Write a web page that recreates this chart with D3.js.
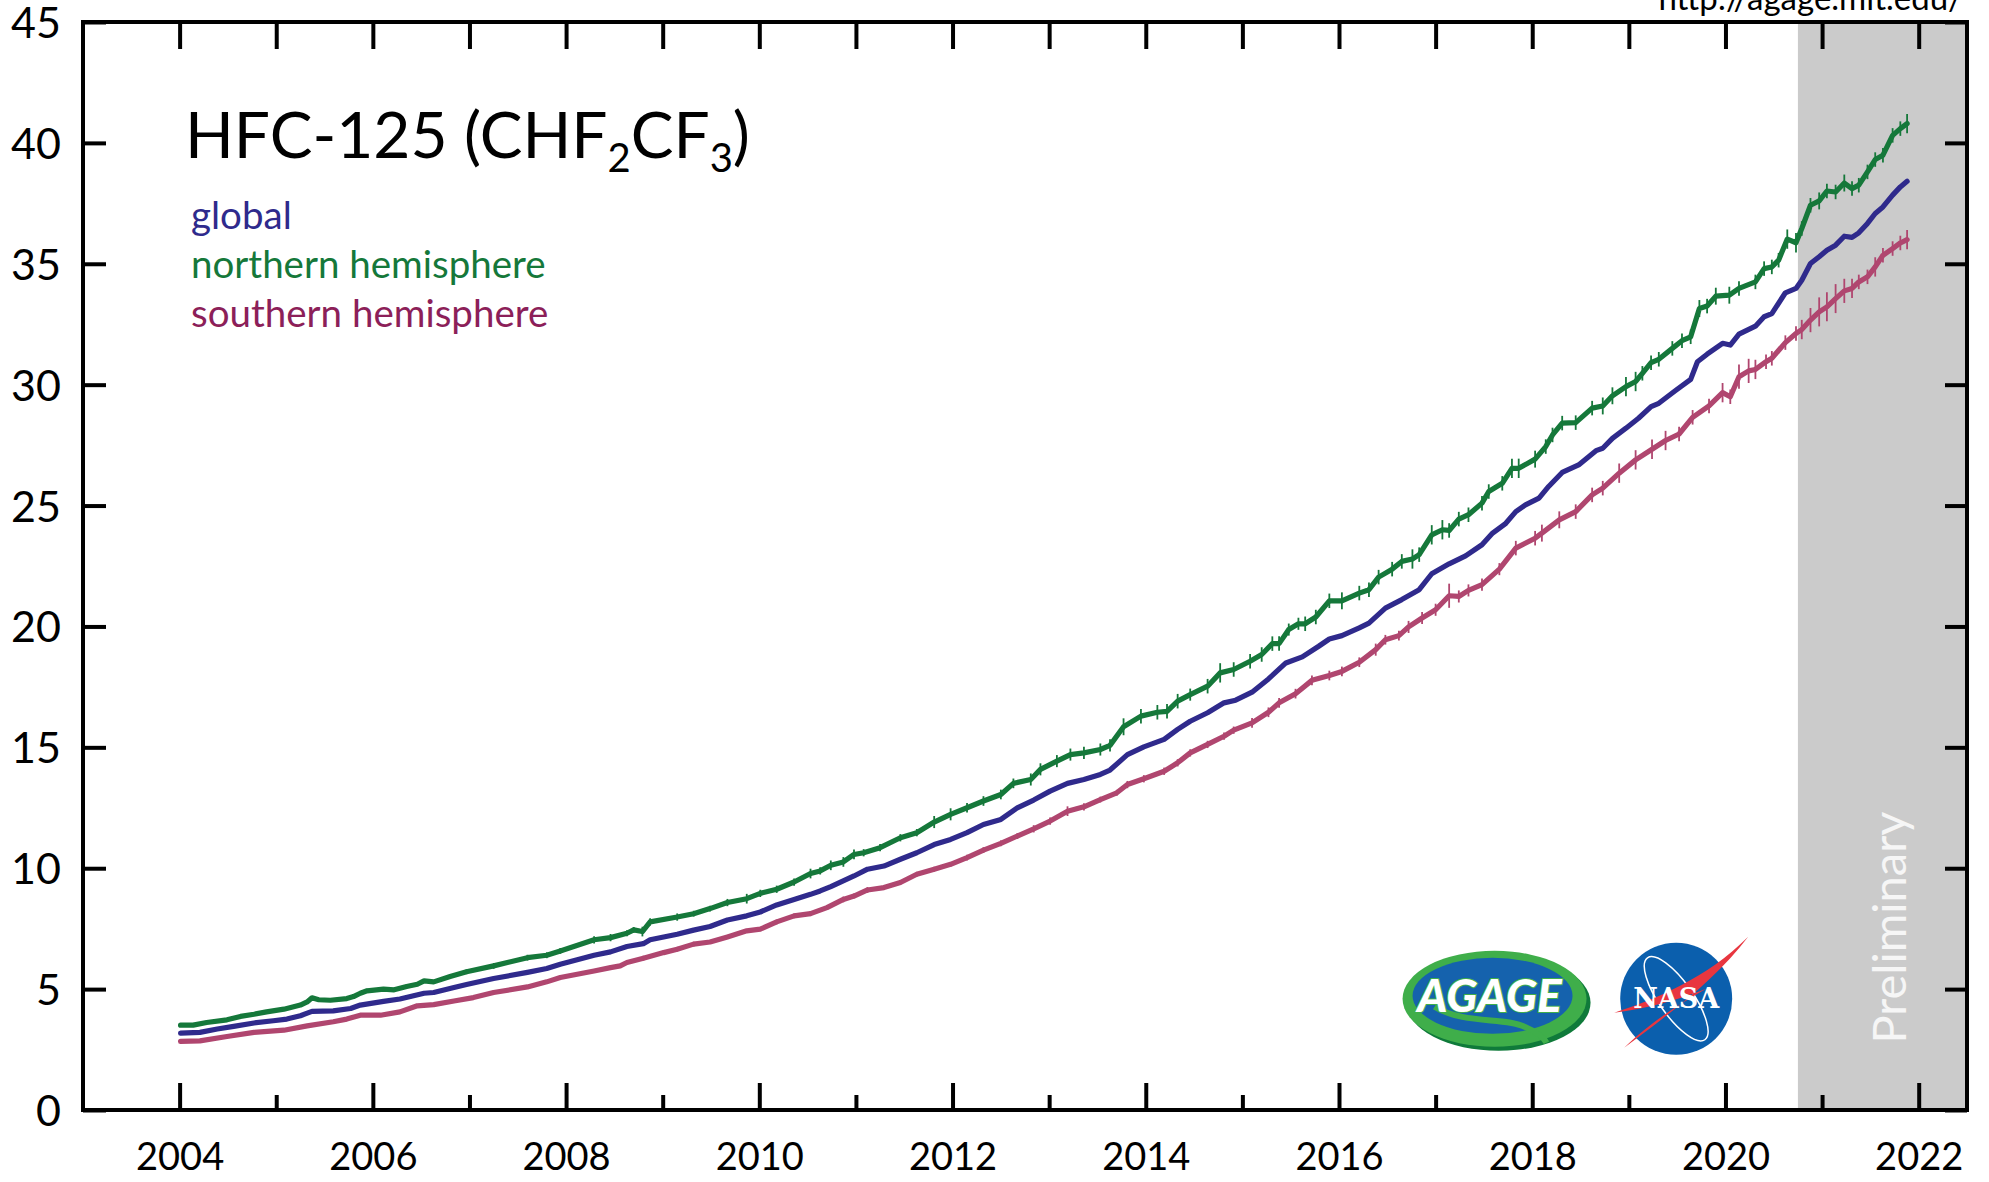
<!DOCTYPE html>
<html>
<head>
<meta charset="utf-8">
<script src="https://cdn.jsdelivr.net/npm/d3@7"></script>
<style>
  html, body { margin: 0; padding: 0; background: #fff; }
  svg { display: block; font-family: Lato, "Open Sans", sans-serif; }
</style>
</head>
<body>
<svg id="chart"></svg>
<script>
// HFC-125 mole fractions (ppt)
// [decimal year, value, half error bar]
const northern = [
  [2004.01, 3.51, .05], [2004.14, 3.51, .05], [2004.28, 3.62, .05], [2004.49, 3.73, .06],
  [2004.63, 3.87, .06], [2004.77, 3.96, .06], [2004.90, 4.06, .06], [2005.08, 4.17, .06],
  [2005.25, 4.34, .06], [2005.32, 4.47, .06], [2005.37, 4.64, .06], [2005.44, 4.56, .06],
  [2005.56, 4.54, .06], [2005.73, 4.61, .06], [2005.80, 4.69, .08], [2005.87, 4.83, .08],
  [2005.94, 4.93, .08], [2006.11, 5.00, .08], [2006.22, 4.97, .08], [2006.35, 5.11, .08],
  [2006.46, 5.20, .08], [2006.53, 5.34, .08], [2006.63, 5.30, .08], [2006.80, 5.52, .08],
  [2006.97, 5.72, .10], [2007.25, 5.96, .12], [2007.60, 6.30, .12], [2007.80, 6.40, .12],
  [2007.94, 6.58, .12], [2008.29, 7.04, .15], [2008.46, 7.13, .15], [2008.63, 7.31, .12],
  [2008.70, 7.45, .12], [2008.79, 7.38, .20], [2008.87, 7.78, .15], [2009.15, 7.98, .15],
  [2009.32, 8.12, .12], [2009.49, 8.33, .12], [2009.67, 8.58, .15], [2009.87, 8.74, .20],
  [2010.01, 8.96, .15], [2010.18, 9.13, .15], [2010.36, 9.43, .15], [2010.53, 9.78, .20],
  [2010.63, 9.89, .15], [2010.74, 10.12, .20], [2010.87, 10.26, .20], [2010.98, 10.57, .20],
  [2011.08, 10.64, .15], [2011.25, 10.85, .15], [2011.46, 11.26, .15], [2011.63, 11.47, .15],
  [2011.81, 11.91, .25], [2011.98, 12.23, .25], [2012.15, 12.50, .20], [2012.32, 12.78, .20],
  [2012.50, 13.05, .20], [2012.63, 13.51, .20], [2012.81, 13.67, .25], [2012.91, 14.09, .25],
  [2013.08, 14.43, .25], [2013.22, 14.70, .25], [2013.36, 14.77, .25], [2013.53, 14.91, .25],
  [2013.63, 15.08, .25], [2013.77, 15.85, .35], [2013.95, 16.29, .30], [2014.12, 16.45, .30],
  [2014.22, 16.49, .30], [2014.33, 16.91, .30], [2014.46, 17.18, .25], [2014.64, 17.53, .30],
  [2014.77, 18.08, .40], [2014.91, 18.22, .30], [2015.08, 18.56, .30], [2015.20, 18.84, .30],
  [2015.31, 19.29, .30], [2015.38, 19.29, .30], [2015.48, 19.87, .25], [2015.58, 20.11, .25],
  [2015.65, 20.11, .30], [2015.76, 20.39, .30], [2015.90, 21.06, .30], [2016.03, 21.06, .35],
  [2016.21, 21.38, .30], [2016.31, 21.52, .30], [2016.41, 22.04, .30], [2016.55, 22.37, .30],
  [2016.65, 22.69, .30], [2016.76, 22.79, .40], [2016.83, 22.97, .30], [2016.96, 23.79, .40],
  [2017.07, 24.00, .40], [2017.14, 23.97, .30], [2017.24, 24.44, .30], [2017.34, 24.62, .30],
  [2017.48, 25.10, .30], [2017.55, 25.58, .30], [2017.69, 25.92, .30], [2017.79, 26.54, .40],
  [2017.86, 26.54, .40], [2018.03, 26.92, .35], [2018.14, 27.44, .30], [2018.21, 27.92, .30],
  [2018.31, 28.41, .30], [2018.45, 28.43, .30], [2018.62, 29.03, .30], [2018.73, 29.12, .35],
  [2018.83, 29.54, .35], [2018.97, 29.92, .40], [2019.07, 30.13, .40], [2019.14, 30.47, .30],
  [2019.23, 30.91, .30], [2019.31, 31.05, .30], [2019.45, 31.50, .30], [2019.55, 31.82, .30],
  [2019.64, 31.98, .30], [2019.73, 33.15, .35], [2019.81, 33.25, .30], [2019.90, 33.66, .35],
  [2020.04, 33.70, .35], [2020.14, 33.98, .30], [2020.31, 34.25, .30], [2020.40, 34.80, .30],
  [2020.48, 34.87, .30], [2020.55, 35.15, .30], [2020.64, 36.02, .40], [2020.73, 35.87, .40],
  [2020.79, 36.46, .30], [2020.88, 37.42, .30], [2020.97, 37.60, .35], [2021.05, 38.01, .30],
  [2021.14, 37.97, .30], [2021.23, 38.34, .35], [2021.31, 38.11, .30], [2021.38, 38.25, .30],
  [2021.47, 38.80, .30], [2021.55, 39.31, .30], [2021.63, 39.49, .30], [2021.73, 40.31, .30],
  [2021.81, 40.59, .30], [2021.88, 40.80, .40]
];

const global = [
  [2004.01, 3.18], [2004.21, 3.21], [2004.39, 3.35], [2004.56, 3.46], [2004.77, 3.60],
  [2004.97, 3.69], [2005.11, 3.76], [2005.25, 3.90], [2005.37, 4.08], [2005.59, 4.10],
  [2005.77, 4.20], [2005.87, 4.34], [2006.11, 4.49], [2006.28, 4.59], [2006.53, 4.83],
  [2006.63, 4.86], [2006.84, 5.07], [2006.97, 5.19], [2007.25, 5.44], [2007.60, 5.69],
  [2007.80, 5.85], [2007.94, 6.03], [2008.29, 6.40], [2008.46, 6.54], [2008.63, 6.76],
  [2008.80, 6.88], [2008.87, 7.04], [2009.15, 7.27], [2009.32, 7.44], [2009.49, 7.59],
  [2009.67, 7.86], [2009.87, 8.03], [2010.01, 8.19], [2010.18, 8.48], [2010.36, 8.71],
  [2010.53, 8.92], [2010.63, 9.06], [2010.74, 9.24], [2010.98, 9.68], [2011.12, 9.96],
  [2011.29, 10.09], [2011.46, 10.37], [2011.63, 10.64], [2011.81, 10.98], [2011.98, 11.19],
  [2012.15, 11.47], [2012.32, 11.81], [2012.50, 12.02], [2012.67, 12.50], [2012.84, 12.82],
  [2013.01, 13.19], [2013.19, 13.51], [2013.36, 13.67], [2013.53, 13.88], [2013.63, 14.06],
  [2013.81, 14.70], [2013.98, 15.02], [2014.19, 15.33], [2014.33, 15.74], [2014.46, 16.08],
  [2014.64, 16.43], [2014.81, 16.84], [2014.93, 16.95], [2015.10, 17.28], [2015.27, 17.83],
  [2015.45, 18.49], [2015.62, 18.74], [2015.79, 19.18], [2015.90, 19.48], [2016.03, 19.62],
  [2016.21, 19.94], [2016.31, 20.14], [2016.48, 20.76], [2016.65, 21.11], [2016.83, 21.52],
  [2016.96, 22.18], [2017.14, 22.59], [2017.31, 22.92], [2017.48, 23.38], [2017.59, 23.86],
  [2017.72, 24.24], [2017.83, 24.75], [2017.93, 25.03], [2018.07, 25.31], [2018.17, 25.79],
  [2018.31, 26.37], [2018.48, 26.68], [2018.66, 27.27], [2018.73, 27.37], [2018.83, 27.78],
  [2018.97, 28.20], [2019.10, 28.61], [2019.23, 29.09], [2019.31, 29.23], [2019.48, 29.75],
  [2019.64, 30.22], [2019.71, 30.95], [2019.81, 31.26], [2019.97, 31.71], [2020.05, 31.64],
  [2020.14, 32.09], [2020.31, 32.42], [2020.40, 32.81], [2020.48, 32.94], [2020.62, 33.80],
  [2020.73, 33.98], [2020.79, 34.32], [2020.88, 35.01], [2020.97, 35.29], [2021.05, 35.56],
  [2021.14, 35.77], [2021.23, 36.14], [2021.31, 36.09], [2021.38, 36.28], [2021.47, 36.67],
  [2021.55, 37.08], [2021.63, 37.35], [2021.73, 37.84], [2021.81, 38.18], [2021.88, 38.41]
];

const southern = [
  [2004.01, 2.84, .05], [2004.21, 2.86, .05], [2004.49, 3.04, .05], [2004.77, 3.21, .05],
  [2005.08, 3.30, .05], [2005.32, 3.48, .05], [2005.59, 3.65, .05], [2005.73, 3.76, .05],
  [2005.87, 3.92, .05], [2006.08, 3.92, .05], [2006.28, 4.06, .05], [2006.46, 4.31, .06],
  [2006.63, 4.36, .06], [2006.84, 4.51, .06], [2007.04, 4.65, .06], [2007.25, 4.86, .08],
  [2007.60, 5.09, .06], [2007.80, 5.30, .06], [2007.94, 5.48, .08], [2008.29, 5.75, .08],
  [2008.46, 5.89, .08], [2008.56, 5.96, .08], [2008.63, 6.10, .08], [2008.80, 6.28, .10],
  [2009.01, 6.51, .10], [2009.15, 6.65, .10], [2009.32, 6.86, .10], [2009.49, 6.95, .08],
  [2009.67, 7.16, .08], [2009.87, 7.41, .08], [2010.01, 7.48, .08], [2010.18, 7.78, .10],
  [2010.36, 8.03, .10], [2010.53, 8.12, .10], [2010.70, 8.37, .10], [2010.87, 8.71, .12],
  [2010.98, 8.85, .10], [2011.12, 9.10, .12], [2011.29, 9.20, .10], [2011.46, 9.41, .10],
  [2011.63, 9.75, .10], [2011.81, 9.96, .10], [2011.98, 10.16, .10], [2012.15, 10.44, .12],
  [2012.32, 10.75, .12], [2012.50, 11.03, .12], [2012.67, 11.33, .12], [2012.84, 11.63, .15],
  [2013.01, 11.95, .15], [2013.19, 12.36, .20], [2013.36, 12.54, .15], [2013.53, 12.84, .12],
  [2013.70, 13.12, .12], [2013.81, 13.46, .15], [2013.98, 13.70, .15], [2014.19, 14.01, .15],
  [2014.33, 14.36, .15], [2014.46, 14.77, .15], [2014.64, 15.12, .15], [2014.81, 15.46, .15],
  [2014.91, 15.71, .15], [2015.10, 16.01, .20], [2015.27, 16.45, .20], [2015.38, 16.84, .20],
  [2015.55, 17.22, .20], [2015.72, 17.77, .20], [2015.90, 17.97, .20], [2016.03, 18.14, .20],
  [2016.21, 18.52, .20], [2016.38, 19.04, .25], [2016.48, 19.45, .20], [2016.62, 19.62, .20],
  [2016.72, 19.98, .25], [2016.86, 20.35, .25], [2017.00, 20.69, .25], [2017.14, 21.27, .50],
  [2017.24, 21.24, .25], [2017.34, 21.49, .25], [2017.48, 21.73, .25], [2017.66, 22.37, .25],
  [2017.83, 23.24, .30], [2018.03, 23.65, .30], [2018.10, 23.86, .35], [2018.28, 24.41, .35],
  [2018.45, 24.75, .30], [2018.62, 25.44, .30], [2018.73, 25.72, .30], [2018.90, 26.34, .40],
  [2019.07, 26.89, .40], [2019.24, 27.33, .40], [2019.38, 27.69, .40], [2019.52, 27.96, .30],
  [2019.66, 28.65, .30], [2019.83, 29.12, .30], [2019.97, 29.67, .40], [2020.05, 29.50, .30],
  [2020.14, 30.33, .50], [2020.24, 30.57, .50], [2020.31, 30.63, .40], [2020.42, 30.95, .30],
  [2020.48, 31.09, .30], [2020.62, 31.74, .30], [2020.73, 32.12, .30], [2020.79, 32.28, .40],
  [2020.88, 32.67, .50], [2020.97, 33.01, .60], [2021.05, 33.22, .60], [2021.14, 33.56, .60],
  [2021.23, 33.88, .50], [2021.31, 33.98, .40], [2021.38, 34.25, .30], [2021.47, 34.46, .30],
  [2021.55, 34.87, .40], [2021.63, 35.35, .30], [2021.73, 35.63, .30], [2021.81, 35.86, .30],
  [2021.88, 36.00, .40]
];

const yearTicks = d3.range(2004, 2023);
const yTicks = d3.range(0, 50, 5);
const preliminaryStart = 2020.75;
const legendLabels = ["global", "northern hemisphere", "southern hemisphere"];

const width = 1989, height = 1182;
const margin = {top: 22, right: 22, bottom: 72, left: 83};
const w = width - margin.left - margin.right;
const h = height - margin.top - margin.bottom;

const colors = {
  global: "#2f2a8c",
  northern: "#15783a",
  southern: "#b0466f",
  southernText: "#8c1f59"
};

const svg = d3.select("#chart").attr("width", width).attr("height", height);
const g = svg.append("g").attr("transform", `translate(${margin.left}, ${margin.top})`);

const x = d3.scaleLinear().domain([2003, 2022.5]).range([0, w]);
const y = d3.scaleLinear().domain([0, 45]).range([h, 0]);

// preliminary band
g.append("rect")
  .attr("x", x(preliminaryStart))
  .attr("y", 0)
  .attr("width", x(2022.5) - x(preliminaryStart))
  .attr("height", h)
  .attr("fill", "#cbcbcb");

g.append("text")
  .attr("transform", `translate(${x(2021.68)}, ${y(7.55)}) rotate(-90)`)
  .attr("text-anchor", "middle")
  .attr("dominant-baseline", "central")
  .attr("fill", "#f6f6f6")
  .style("font-size", "47px")
  .text("Preliminary");

// logos (drawn, approximate)
const agage = g.append("g").attr("transform", `translate(${x(2017.61)}, ${y(4.6)})`);
agage.append("ellipse").attr("cx", 4).attr("cy", 4).attr("rx", 92).attr("ry", 48).attr("fill", "#0f7a3a");
agage.append("ellipse").attr("cx", 0).attr("cy", 0).attr("rx", 92).attr("ry", 48).attr("fill", "#3fae4a");
agage.append("ellipse").attr("cx", -2).attr("cy", -3).attr("rx", 80).attr("ry", 38).attr("fill", "#1562ad");
agage.append("path")
  .attr("d", "M-60,8 C-30,26 10,18 30,28 C44,34 50,40 52,44")
  .attr("fill", "none").attr("stroke", "#3fae4a").attr("stroke-width", 6);
agage.append("text")
  .attr("x", -5).attr("y", 13)
  .attr("text-anchor", "middle")
  .attr("fill", "#fff")
  .attr("stroke", "#3fae4a").attr("stroke-width", 2).attr("paint-order", "stroke")
  .style("font-size", "46px").style("font-weight", 900).style("font-style", "italic")
  .text("AGAGE");

const nasa = g.append("g").attr("transform", `translate(${x(2019.49)}, ${y(4.6)})`);
nasa.append("circle").attr("r", 56).attr("fill", "#0b5fad");
nasa.append("ellipse").attr("rx", 50).attr("ry", 17).attr("transform", "rotate(55)")
  .attr("fill", "none").attr("stroke", "#fff").attr("stroke-width", 1.5);
nasa.append("path")
  .attr("d", "M-62,14 C-20,0 30,-20 72,-62 C40,-20 0,10 -52,49 C-20,18 10,2 30,-10 C0,2 -30,10 -62,14 Z")
  .attr("fill", "#e8363f");
nasa.append("text")
  .attr("y", 9)
  .attr("text-anchor", "middle")
  .attr("fill", "#fff")
  .style("font-family", "'DejaVu Serif', serif")
  .style("font-size", "27px").style("font-weight", "bold")
  .text("NASA");

// series
const line = d3.line().x(d => x(d[0])).y(d => y(d[1]));

function errorBars(data, color) {
  g.append("g")
    .selectAll("line")
    .data(data)
    .join("line")
    .attr("x1", d => x(d[0])).attr("x2", d => x(d[0]))
    .attr("y1", d => y(d[1] - d[2])).attr("y2", d => y(d[1] + d[2]))
    .attr("stroke", color)
    .attr("stroke-width", 1.8);
}

errorBars(northern, colors.northern);
errorBars(southern, colors.southern);

[[southern, colors.southern], [global, colors.global], [northern, colors.northern]].forEach(([data, color]) => {
  g.append("path")
    .datum(data)
    .attr("fill", "none")
    .attr("stroke", color)
    .attr("stroke-width", 5.2)
    .attr("stroke-linejoin", "round")
    .attr("stroke-linecap", "round")
    .attr("d", line);
});

// frame and ticks
g.append("rect")
  .attr("width", w).attr("height", h)
  .attr("fill", "none").attr("stroke", "#000").attr("stroke-width", 4);

const bottomTicks = g.append("g")
  .attr("transform", `translate(0, ${h})`)
  .call(d3.axisTop(x).tickValues(yearTicks).tickFormat("").tickSize(27));
bottomTicks.selectAll(".tick line")
  .attr("y2", d => d % 2 === 0 ? -27 : -15);

const topTicks = g.append("g")
  .call(d3.axisBottom(x).tickValues(yearTicks).tickFormat("").tickSize(27));

const xLabels = g.append("g")
  .attr("transform", `translate(0, ${h})`)
  .call(d3.axisBottom(x).tickValues(yearTicks.filter(d => d % 2 === 0)).tickFormat(d3.format("d")).tickSize(0));
xLabels.selectAll("text")
  .attr("y", 47).attr("dy", "0.35em")
  .attr("fill", "#000")
  .style("font-size", "38px");

const leftAxis = g.append("g")
  .call(d3.axisRight(y).tickValues(yTicks).tickFormat("").tickSize(23));

const rightAxis = g.append("g")
  .attr("transform", `translate(${w}, 0)`)
  .call(d3.axisLeft(y).tickValues(yTicks).tickFormat("").tickSize(22));

const yLabels = g.append("g")
  .call(d3.axisLeft(y).tickValues(yTicks).tickSize(0));
yLabels.selectAll("text")
  .attr("x", -22).attr("dy", "0.36em")
  .attr("fill", "#000")
  .style("font-size", "43px");

[bottomTicks, topTicks, xLabels, leftAxis, rightAxis, yLabels].forEach(a => {
  a.select(".domain").remove();
  a.attr("font-family", null).attr("font-size", null);
  a.selectAll(".tick line").attr("stroke", "#000").attr("stroke-width", 4);
});

// title and legend
const title = g.append("text")
  .attr("x", 102).attr("y", 136)
  .attr("fill", "#000")
  .style("font-size", "64px");
title.append("tspan").text("HFC-125 (CHF");
title.append("tspan").attr("dy", 14).style("font-size", "40px").text("2");
title.append("tspan").attr("dy", -14).text("CF");
title.append("tspan").attr("dy", 14).style("font-size", "40px").text("3");
title.append("tspan").attr("dy", -14).text(")");

g.append("g")
  .selectAll("text")
  .data(legendLabels)
  .join("text")
  .attr("x", 108)
  .attr("y", (d, i) => 207 + i * 49)
  .attr("fill", (d, i) => [colors.global, colors.northern, colors.southernText][i])
  .style("font-size", "38.5px")
  .text(d => d);

// source url, clipped at the top edge as in the original
svg.append("text")
  .attr("x", 1963).attr("y", 10)
  .attr("text-anchor", "end")
  .attr("fill", "#000")
  .style("font-size", "33px")
  .text("http://agage.mit.edu/");
</script>
</body>
</html>
